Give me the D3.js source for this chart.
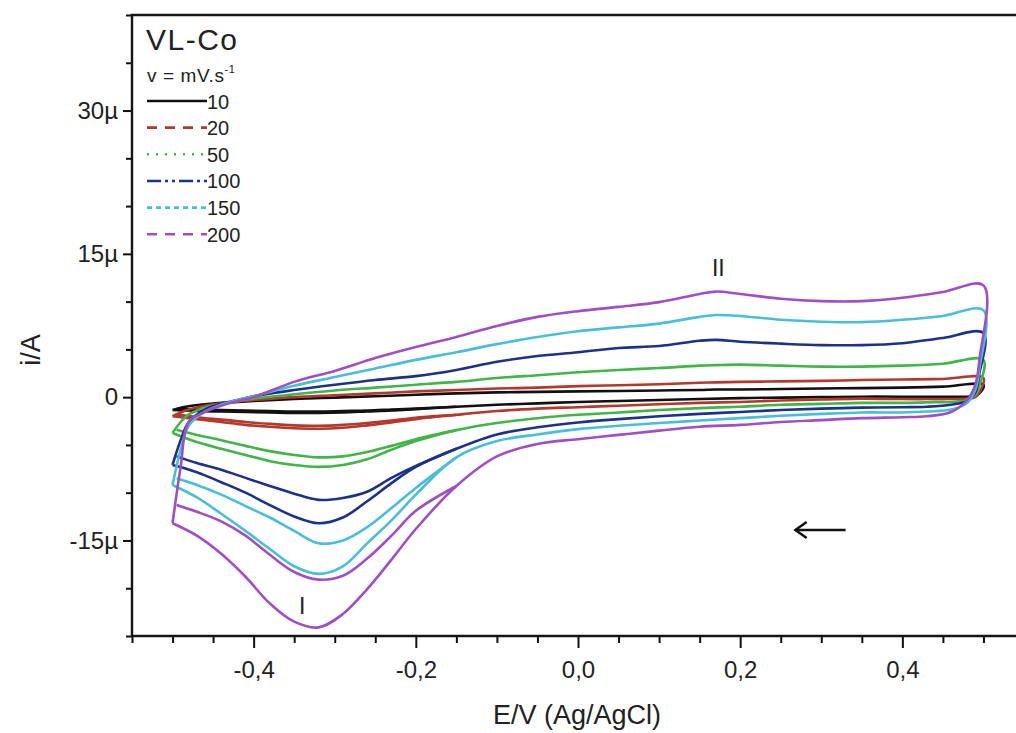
<!DOCTYPE html>
<html><head><meta charset="utf-8">
<script src="https://cdn.jsdelivr.net/npm/d3@7"></script>
<style>
body{margin:0;background:#fff}
svg{display:block}
text{font-family:"Liberation Sans",Arial,Helvetica,sans-serif;fill:#222}
</style>
</head><body>
<svg id="c" width="1016" height="733"></svg>
<script>
// ---------- DATA ----------
const speeds = ["10","20","50","100","150","200"];
const colors = ["#111111","#b5382c","#40b548","#1c318c","#48bfd8","#a04ec6"];
const legendDash = ["none","10,8","2,7","14,4,3,4,3,4","5,4","10,8"];

// potentials (V) of the forward (anodic) branch
const E_anodic = [-0.5,-0.49,-0.48,-0.46,-0.44,-0.42,-0.4,-0.35,-0.3,-0.25,-0.2,-0.15,-0.1,-0.05,0,0.05,0.1,0.15,0.17,0.2,0.25,0.3,0.35,0.4,0.45,0.5];
// potentials (V) of the reverse (cathodic) branch
const E_cathodic = [0.5,0.495,0.49,0.48,0.46,0.43,0.4,0.35,0.3,0.25,0.2,0.15,0.1,0.05,0,-0.05,-0.1,-0.15,-0.2,-0.23,-0.26,-0.29,-0.32,-0.35,-0.38,-0.41,-0.44,-0.47,-0.5];
// potentials (V) of the second cathodic trace (peak I region)
const E_inner = [-0.15,-0.2,-0.23,-0.26,-0.29,-0.32,-0.35,-0.38,-0.41,-0.44,-0.47,-0.495];

// currents in µA
const anodic10  = [-1.35,-1.1,-0.95,-0.75,-0.6,-0.5,-0.4,-0.2,-0.05,0.1,0.25,0.4,0.5,0.55,0.6,0.65,0.7,0.75,0.8,0.8,0.85,0.9,0.95,1.0,1.1,1.3];
const anodic20  = [-2.0,-1.6,-1.3,-0.9,-0.65,-0.45,-0.3,0.0,0.2,0.4,0.6,0.75,0.9,1.0,1.15,1.25,1.35,1.5,1.55,1.6,1.65,1.7,1.8,1.85,1.9,2.0];
const anodic50  = [-3.75,-2.6,-1.8,-1.1,-0.7,-0.4,-0.15,0.3,0.7,1.0,1.3,1.6,2.0,2.3,2.6,2.85,3.05,3.3,3.35,3.4,3.3,3.2,3.2,3.3,3.5,3.9];
const anodic100 = [-7.1,-4.5,-2.6,-1.3,-0.7,-0.3,0.1,0.75,1.3,1.8,2.2,2.85,3.7,4.3,4.7,5.15,5.35,5.9,6.0,5.8,5.6,5.45,5.45,5.65,6.2,6.7];
const anodic150 = [-9.2,-5.5,-3.0,-1.5,-0.8,-0.3,0.1,1.2,2.1,3.0,3.9,4.7,5.55,6.3,6.9,7.3,7.7,8.4,8.6,8.5,8.1,7.9,7.85,8.1,8.5,9.1];
const anodic200 = [-13.2,-7.3,-2.6,-1.55,-0.9,-0.4,0.0,1.6,2.75,4.1,5.25,6.3,7.45,8.4,9.0,9.45,9.95,10.8,11.05,10.8,10.3,10.05,10.05,10.4,11.0,11.7];

const cathodic10  = [1.3,0.4,0.15,0.05,0.05,0.05,0.05,0.05,0.0,-0.05,-0.1,-0.2,-0.3,-0.4,-0.5,-0.65,-0.8,-1.0,-1.25,-1.4,-1.5,-1.6,-1.65,-1.65,-1.6,-1.55,-1.5,-1.45,-1.35];
const cathodic20  = [2.0,0.5,0.0,-0.15,-0.2,-0.2,-0.2,-0.15,-0.25,-0.35,-0.5,-0.6,-0.75,-0.9,-1.05,-1.2,-1.45,-1.85,-2.3,-2.65,-2.95,-3.2,-3.3,-3.25,-3.1,-2.9,-2.6,-2.3,-2.0];
const cathodic50  = [3.9,1.2,0.2,-0.3,-0.5,-0.55,-0.6,-0.6,-0.7,-0.8,-1.0,-1.15,-1.35,-1.6,-1.85,-2.2,-2.7,-3.45,-4.6,-5.5,-6.5,-7.1,-7.3,-7.1,-6.7,-6.05,-5.4,-4.7,-3.75];
const cathodic100 = [6.7,2.5,0.5,-0.4,-0.8,-1.0,-1.05,-1.1,-1.2,-1.35,-1.55,-1.75,-2.0,-2.3,-2.65,-3.15,-3.9,-5.4,-7.3,-9.0,-10.9,-12.6,-13.2,-12.5,-11.3,-10.0,-8.9,-7.85,-7.1];
const cathodic150 = [9.1,3.0,0.8,-0.6,-1.3,-1.5,-1.6,-1.6,-1.75,-1.95,-2.2,-2.45,-2.7,-3.0,-3.35,-3.9,-4.6,-6.3,-10.2,-12.9,-15.3,-17.7,-18.5,-17.7,-15.9,-14.0,-12.2,-10.5,-9.2];
const cathodic200 = [11.7,3.9,1.3,-0.3,-1.55,-2.0,-2.1,-2.2,-2.4,-2.6,-2.9,-3.1,-3.5,-3.95,-4.4,-4.9,-6.2,-9.3,-13.8,-17.0,-20.1,-22.7,-24.1,-23.5,-21.6,-18.8,-16.4,-14.5,-13.2];

const inner10  = [-1.0,-1.2,-1.3,-1.4,-1.45,-1.5,-1.5,-1.45,-1.4,-1.35,-1.3,-1.25];
const inner20  = [-1.85,-2.15,-2.45,-2.7,-2.9,-3.0,-2.95,-2.8,-2.6,-2.35,-2.1,-1.8];
const inner50  = [-3.45,-4.4,-5.1,-5.75,-6.2,-6.3,-6.05,-5.65,-5.1,-4.5,-3.95,-3.4];
const inner100 = [-5.4,-7.2,-8.45,-9.9,-10.55,-10.75,-10.1,-9.3,-8.45,-7.6,-6.9,-6.2];
const inner150 = [-6.3,-9.5,-11.6,-13.6,-15.0,-15.3,-14.0,-12.6,-11.4,-10.2,-9.2,-8.5];
const inner200 = [-9.3,-11.9,-14.5,-16.9,-18.7,-19.1,-18.3,-16.5,-14.5,-13.0,-12.0,-11.3];

const xTicks = [-0.4,-0.2,0,0.2,0.4];
const xTickLabels = ["-0,4","-0,2","0,0","0,2","0,4"];
const yTicks = [-15,0,15,30];
const yTickLabels = ["-15µ","0","15µ","30µ"];

const anodicAll = [anodic10,anodic20,anodic50,anodic100,anodic150,anodic200];
const cathodicAll = [cathodic10,cathodic20,cathodic50,cathodic100,cathodic150,cathodic200];
const innerAll = [inner10,inner20,inner50,inner100,inner150,inner200];

// ---------- CHART ----------
const svg = d3.select("#c");
const x = d3.scaleLinear().domain([-0.55,0.55]).range([132,1024]);
const y = d3.scaleLinear().domain([-25,40]).range([636,15]);

const line = d3.line().x(d=>x(d[0])).y(d=>y(d[1])).curve(d3.curveCatmullRom.alpha(0.5));

const curves = svg.append("g").attr("fill","none").attr("stroke-width",2.6).attr("stroke-linejoin","round");
speeds.forEach((s,k)=>{
  const loop = E_anodic.map((e,i)=>[e,anodicAll[k][i]])
    .concat(E_cathodic.slice(1).map((e,i)=>[e,cathodicAll[k][i+1]]));
  curves.append("path").attr("d",line(loop)).attr("stroke",colors[k]);
  const inner = E_inner.map((e,i)=>[e,innerAll[k][i]]);
  curves.append("path").attr("d",line(inner)).attr("stroke",colors[k]);
});

// minor ticks
const xMinor = d3.range(-11,12).map(i=>i*0.05).filter(v=>!xTicks.some(t=>Math.abs(t-v)<1e-9));
const yMinor = d3.range(-5,9).map(i=>i*5).filter(v=>!yTicks.includes(v));

const gx = svg.append("g").attr("transform",`translate(0,${y(-25)})`);
gx.call(d3.axisBottom(x).tickValues(xMinor).tickSize(7).tickFormat("").tickSizeOuter(0));
const gx2 = svg.append("g").attr("transform",`translate(0,${y(-25)})`);
gx2.call(d3.axisBottom(x).tickValues(xTicks).tickSize(12).tickPadding(13).tickSizeOuter(0)
  .tickFormat((d,i)=>xTickLabels[i]));

const gy = svg.append("g").attr("transform",`translate(${x(-0.55)},0)`);
gy.call(d3.axisLeft(y).tickValues(yMinor).tickSize(6).tickFormat("").tickSizeOuter(0));
const gy2 = svg.append("g").attr("transform",`translate(${x(-0.55)},0)`);
gy2.call(d3.axisLeft(y).tickValues(yTicks).tickSize(9).tickPadding(5).tickSizeOuter(0)
  .tickFormat((d,i)=>yTickLabels[i]));

svg.selectAll(".domain").remove();
svg.selectAll(".tick line").attr("stroke","#111").attr("stroke-width",2);
svg.selectAll(".tick text").attr("font-size",24).attr("fill","#222")
  .attr("font-family","'Liberation Sans',Arial,sans-serif");

// axis lines and top frame line
svg.append("path")
  .attr("d",`M${x(0.55)},${y(40)} H${x(-0.55)} V${y(-25)} H${x(0.55)}`)
  .attr("fill","none").attr("stroke","#151515").attr("stroke-width",2.4);

// axis titles
svg.append("text").attr("x",577).attr("y",724).attr("text-anchor","middle")
  .attr("font-size",27).text("E/V (Ag/AgCl)");
svg.append("text").attr("transform","translate(40,350) rotate(-90)").attr("text-anchor","middle")
  .attr("font-size",27).text("i/A");

// legend
svg.append("text").attr("x",146).attr("y",50).attr("font-size",30).attr("letter-spacing",1.5).text("VL-Co");
const vt = svg.append("text").attr("x",147).attr("y",82).attr("font-size",19).attr("letter-spacing",0.6);
vt.append("tspan").text("v = mV.s");
vt.append("tspan").attr("font-size",11).attr("dy",-9).text("-1");
speeds.forEach((s,k)=>{
  const ly = 101 + k*26.65;
  svg.append("line").attr("x1",147).attr("x2",207).attr("y1",ly).attr("y2",ly)
    .attr("stroke",colors[k]).attr("stroke-width",2.6)
    .attr("stroke-dasharray",legendDash[k]==="none"?null:legendDash[k]);
  svg.append("text").attr("x",207).attr("y",ly+7.5).attr("font-size",20).text(s);
});

// peak labels
svg.append("text").attr("x",x(0.173)).attr("y",276).attr("text-anchor","middle")
  .attr("font-family","'Liberation Serif','Times New Roman',serif").attr("font-size",23).text("II");
svg.append("text").attr("x",x(-0.34)).attr("y",614).attr("text-anchor","middle")
  .attr("font-family","'Liberation Serif','Times New Roman',serif").attr("font-size",23).text("I");

// scan direction arrow
const ay = y(-13.9);
svg.append("line").attr("x1",x(0.33)).attr("x2",x(0.268)).attr("y1",ay).attr("y2",ay)
  .attr("stroke","#111").attr("stroke-width",2.4);
svg.append("path").attr("d",`M${x(0.282)},${ay-8} L${x(0.268)},${ay} L${x(0.282)},${ay+8}`)
  .attr("fill","none").attr("stroke","#111").attr("stroke-width",2.4);
</script>
</body></html>
